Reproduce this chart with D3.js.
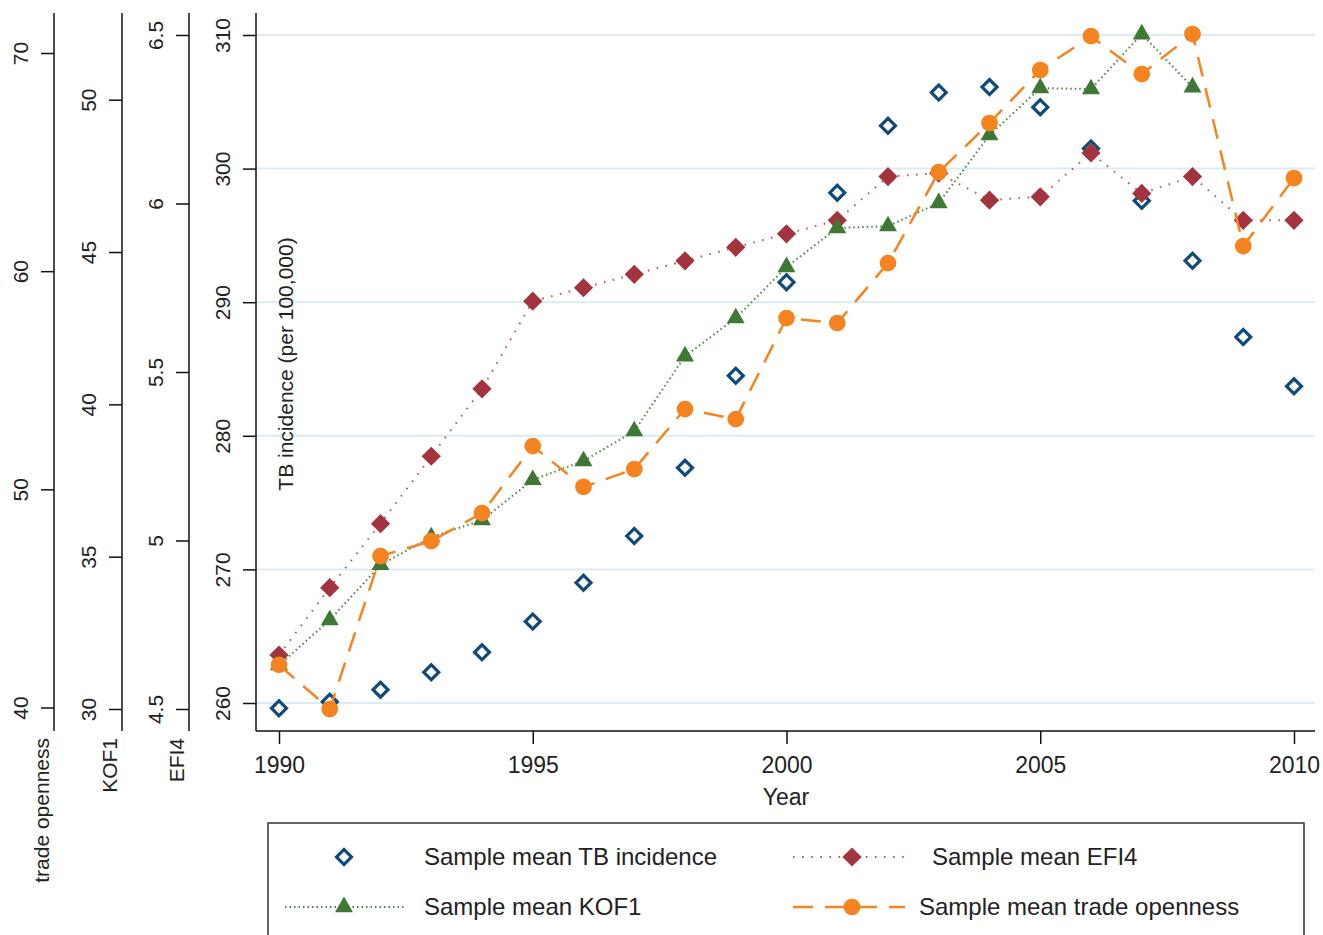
<!DOCTYPE html>
<html>
<head>
<meta charset="utf-8">
<script src="https://cdn.jsdelivr.net/npm/d3@7"></script>
<style>
  body { margin: 0; background: #fff; }
  svg text { font-family: "Liberation Sans", Arial, Helvetica, sans-serif; fill: #222; }
</style>
</head>
<body>
<div id="chart"></div>
<script>
// values
const years = [1990, 1991, 1992, 1993, 1994, 1995, 1996, 1997, 1998, 1999, 2000,
               2001, 2002, 2003, 2004, 2005, 2006, 2007, 2008, 2009, 2010];
const tbIncidence = [259.6, 260.1, 261.0, 262.3, 263.8, 266.1, 269.0, 272.5, 277.6, 284.5, 291.5,
                     298.2, 303.2, 305.7, 306.1, 304.6, 301.5, 297.6, 293.1, 287.4, 283.7];
const efi4 = [4.66, 4.86, 5.05, 5.25, 5.45, 5.71, 5.75, 5.79, 5.83, 5.87, 5.91,
              5.95, 6.08, 6.09, 6.01, 6.02, 6.15, 6.03, 6.08, 5.95, 5.95];
const kof1 = [31.44, 32.92, 34.73, 35.64, 36.2, 37.52, 38.14, 39.12, 41.58, 42.83, 44.51,
              45.79, 45.85, 46.61, 48.84, 50.38, 50.35, 52.15, 50.41, null, null];
const tradeOpenness = [41.95, 39.93, 46.94, 47.63, 48.91, 51.98, 50.11, 50.93, 53.68, 53.22, 57.85,
                       57.62, 60.37, 64.54, 66.79, 69.22, 70.77, 69.03, 70.87, 61.15, 64.27];

const yearTicks = [1990, 1995, 2000, 2005, 2010];
const tbTicks = [260, 270, 280, 290, 300, 310];
const efiTicks = [4.5, 5, 5.5, 6, 6.5];
const kofTicks = [30, 35, 40, 45, 50];
const tradeTicks = [40, 50, 60, 70];

const legendLabels = ["Sample mean TB incidence", "Sample mean EFI4",
                      "Sample mean KOF1", "Sample mean trade openness"];

const width = 1323, height = 935;
const plotTop = 13, plotBottom = 731, plotLeft = 256, plotRight = 1315;

const svg = d3.select("#chart").append("svg")
  .attr("width", width).attr("height", height);

const x = d3.scaleLinear().domain([1990, 2010]).range([279, 1294]);
const yTB = d3.scaleLinear().domain([260, 310]).range([703, 35]);
const yEFI = d3.scaleLinear().domain([4.5, 6.5]).range([709, 35]);
const yKOF = d3.scaleLinear().domain([30, 50]).range([709, 99.7]);
const yTrade = d3.scaleLinear().domain([40, 70]).range([707.5, 53]);

// grid lines on the TB axis
svg.append("g").selectAll("line")
  .data(tbTicks).join("line")
  .attr("x1", plotLeft).attr("x2", plotRight)
  .attr("y1", d => yTB(d)).attr("y2", d => yTB(d))
  .attr("stroke", "#d9edf1").attr("stroke-width", 2);

// stacked y axes
const yAxes = [
  { scale: yTB, ticks: tbTicks, x: 256, title: "TB incidence (per 100,000)" },
  { scale: yEFI, ticks: efiTicks, x: 189, title: "EFI4" },
  { scale: yKOF, ticks: kofTicks, x: 122, title: "KOF1" },
  { scale: yTrade, ticks: tradeTicks, x: 54, title: "trade openness" }
];

yAxes.forEach((a, i) => {
  const g = svg.append("g")
    .attr("transform", `translate(${a.x},0)`)
    .call(d3.axisLeft(a.scale).tickValues(a.ticks).tickSize(13).tickSizeOuter(0)
      .tickFormat(d => String(d)));
  g.select(".domain").remove();
  g.selectAll(".tick line").attr("stroke", "#111").attr("stroke-width", 1.5);
  g.selectAll(".tick text")
    .attr("transform", "rotate(-90)")
    .attr("x", 0).attr("y", -26).attr("dy", 0)
    .attr("text-anchor", "middle")
    .style("font-size", "21px");
  g.append("line")
    .attr("y1", plotTop).attr("y2", plotBottom)
    .attr("stroke", "#111").attr("stroke-width", 1.5);

  if (i === 0) {
    g.append("text")
      .attr("transform", `translate(37,364) rotate(-90)`)
      .attr("text-anchor", "middle")
      .style("font-size", "21px")
      .text(a.title);
  } else {
    g.append("text")
      .attr("transform", `translate(-5,738) rotate(-90)`)
      .attr("text-anchor", "end")
      .style("font-size", "21px")
      .text(a.title);
  }
});

// x axis
const gx = svg.append("g")
  .attr("transform", `translate(0,${plotBottom})`)
  .call(d3.axisBottom(x).tickValues(yearTicks).tickSize(13).tickSizeOuter(0)
    .tickFormat(d3.format("d")));
gx.select(".domain").remove();
gx.selectAll(".tick line").attr("stroke", "#111").attr("stroke-width", 1.5);
gx.selectAll(".tick text").attr("y", 42).attr("dy", 0).style("font-size", "23px");
gx.append("line").attr("x1", plotLeft).attr("x2", plotRight)
  .attr("stroke", "#111").attr("stroke-width", 1.5);
svg.append("text")
  .attr("x", 786).attr("y", 805)
  .attr("text-anchor", "middle")
  .style("font-size", "23px")
  .text("Year");

// series styles
const diamond = d3.symbol().type(d3.symbolSquare);
const series = [
  { values: tbIncidence, scale: yTB, color: "#0f4a7a", line: null,
    symbol: diamond.size(112)(), rot: 45, hollow: true },
  { values: efi4, scale: yEFI, color: "#a3343f", line: { color: "#b85a66", width: 2, dash: "1.6,7.5" },
    symbol: diamond.size(185)(), rot: 45 },
  { values: kof1, scale: yKOF, color: "#3e7834", line: { color: "#4d8445", width: 2, dash: "1.5,3" },
    symbol: d3.symbol().type(d3.symbolTriangle).size(140)(), rot: 0 },
  { values: tradeOpenness, scale: yTrade, color: "#f58320", line: { color: "#f58320", width: 2.5, dash: "20,12" },
    symbol: d3.symbol().type(d3.symbolCircle).size(220)(), rot: 0 }
];

series.forEach(s => {
  const pts = years.map((yr, i) => ({ yr, v: s.values[i] })).filter(d => d.v != null);
  const g = svg.append("g");
  if (s.line) {
    g.append("path")
      .datum(pts)
      .attr("d", d3.line().x(d => x(d.yr)).y(d => s.scale(d.v)))
      .attr("fill", "none")
      .attr("stroke", s.line.color)
      .attr("stroke-width", s.line.width)
      .attr("stroke-dasharray", s.line.dash);
  }
  g.selectAll("path.mark")
    .data(pts).join("path")
    .attr("class", "mark")
    .attr("d", s.symbol)
    .attr("transform", d => `translate(${x(d.yr)},${s.scale(d.v)}) rotate(${s.rot})`)
    .attr("fill", s.hollow ? "none" : s.color)
    .attr("stroke", s.hollow ? s.color : "none")
    .attr("stroke-width", s.hollow ? 3.2 : 0);
});

// legend
const legend = svg.append("g");
legend.append("rect")
  .attr("x", 268).attr("y", 823).attr("width", 1036).attr("height", 140)
  .attr("fill", "#fff").attr("stroke", "#333").attr("stroke-width", 1.5);

const legendPos = [
  { sx: 344, lx0: 285, lx1: 405, tx: 424, y: 857 },
  { sx: 852, lx0: 793, lx1: 910, tx: 932, y: 857 },
  { sx: 344, lx0: 285, lx1: 405, tx: 424, y: 907 },
  { sx: 852, lx0: 793, lx1: 905, tx: 919, y: 907 }
];

legendLabels.forEach((label, k) => {
  const s = series[k], p = legendPos[k];
  if (s.line) {
    legend.append("line")
      .attr("x1", p.lx0).attr("x2", p.lx1).attr("y1", p.y).attr("y2", p.y)
      .attr("stroke", s.line.color)
      .attr("stroke-width", s.line.width)
      .attr("stroke-dasharray", s.line.dash);
  }
  legend.append("path")
    .attr("d", s.symbol)
    .attr("transform", `translate(${p.sx},${p.y}) rotate(${s.rot})`)
    .attr("fill", s.hollow ? "none" : s.color)
    .attr("stroke", s.hollow ? s.color : "none")
    .attr("stroke-width", s.hollow ? 3.2 : 0);
  legend.append("text")
    .attr("x", p.tx).attr("y", p.y + 8)
    .style("font-size", "24px")
    .text(label);
});
</script>
</body>
</html>
